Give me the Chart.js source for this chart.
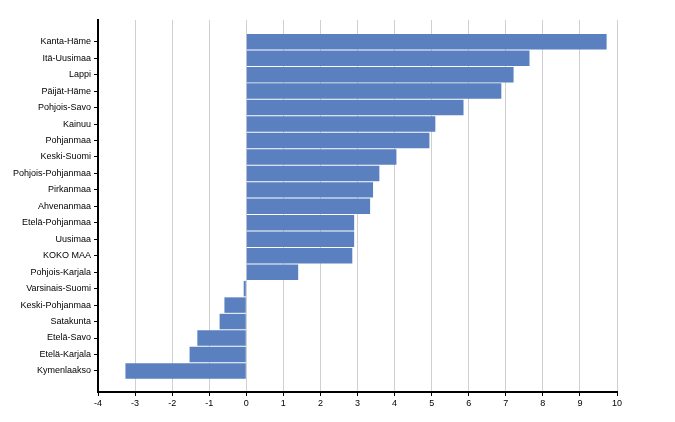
<!DOCTYPE html>
<html><head><meta charset="utf-8">
<script src="https://cdn.jsdelivr.net/npm/chart.js@4.4.1/dist/chart.umd.min.js"></script>
<style>html,body{margin:0;padding:0;background:#fff}#wrap{width:675px;height:422px}</style>
</head><body><div id="wrap"><canvas id="c"></canvas></div>
<script>
const categories = ["Kanta-Häme","Itä-Uusimaa","Lappi","Päijät-Häme","Pohjois-Savo","Kainuu","Pohjanmaa","Keski-Suomi","Pohjois-Pohjanmaa","Pirkanmaa","Ahvenanmaa","Etelä-Pohjanmaa","Uusimaa","KOKO MAA","Pohjois-Karjala","Varsinais-Suomi","Keski-Pohjanmaa","Satakunta","Etelä-Savo","Etelä-Karjala","Kymenlaakso"];
const values = [9.72,7.64,7.21,6.88,5.86,5.10,4.94,4.05,3.59,3.42,3.34,2.91,2.91,2.86,1.40,-0.07,-0.59,-0.72,-1.32,-1.53,-3.26];
const xTicks = [-4,-3,-2,-1,0,1,2,3,4,5,6,7,8,9,10];

const font = {family:"'Liberation Sans', Arial, sans-serif", size:9};
new Chart(document.getElementById('c'), {
  type:'bar',
  data:{
    datasets:[{
      data: values.map((v,i)=>({x:v,y:i})),
      backgroundColor:'#5a80c0',
      borderWidth:0,
      barPercentage:0.94,
      categoryPercentage:1
    }]
  },
  options:{
    indexAxis:'y',
    responsive:true,
    maintainAspectRatio:false,
    animation:false,
    events:[],
    layout:{padding:{top:20,right:58,left:0,bottom:0}},
    plugins:{legend:{display:false},tooltip:{enabled:false}},
    scales:{
      x:{
        type:'linear',
        min:xTicks[0], max:xTicks[xTicks.length-1],
        afterBuildTicks:s=>{ s.ticks = xTicks.map(v=>({value:v})); },
        ticks:{font, color:'#000', padding:2, maxRotation:0, autoSkip:false},
        grid:{color:'#d0d0d0', lineWidth:1, tickLength:4, tickColor:'#000', tickWidth:1},
        border:{color:'#000', width:2},
        afterFit:s=>{ s.height = 30; }
      },
      y:{
        type:'linear',
        reverse:true,
        offset:false,
        min:-1.32, max:categories.length-1+1.28,
        afterBuildTicks:s=>{ s.ticks = categories.map((c,i)=>({value:i})); },
        ticks:{font, color:'#000', padding:3, autoSkip:false,
          callback:v=>categories[v] ?? ''},
        grid:{offset:false, drawOnChartArea:false, tickLength:4, tickColor:'#000', tickWidth:1},
        border:{color:'#000', width:2},
        afterFit:s=>{ s.width = 98; }
      }
    }
  }
});
</script></body></html>
